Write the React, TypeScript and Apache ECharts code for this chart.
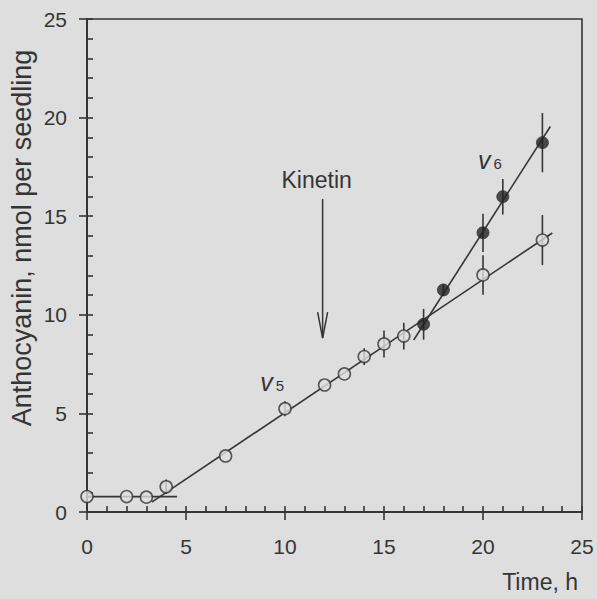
import React, { useEffect, useRef } from "react";
import * as echarts from "echarts";

// Time (h) and anthocyanin (nmol per seedling)
const openX = [0, 2, 3, 4, 7, 10, 12, 13, 14, 15, 16, 20, 23];
const openY = [0.78, 0.78, 0.75, 1.28, 2.84, 5.24, 6.44, 7.0, 7.88, 8.52, 8.92, 12.02, 13.79];
const openErr = [0, 0, 0, 0.37, 0, 0.38, 0, 0, 0.43, 0.68, 0.68, 1.0, 1.27];

const filledX = [17, 18, 20, 21, 23];
const filledY = [9.52, 11.26, 14.16, 15.99, 18.73];
const filledErr = [0.78, 0.3, 0.97, 0.9, 1.5];

// fitted lines
const baseLine = [[0, 0.78], [4.55, 0.78]];
const v5Line = [[3.27, 0.5], [23.5, 14.15]];
const v6Line = [[16.5, 8.72], [23.4, 19.55]];

// Kinetin arrow: x, y start, y end
const kinetinArrow = [[11.9, 15.87, 8.82]];

// annotations
const annotX = [11.6, 9.35, 20.35];
const annotY = [16.85, 6.6, 17.85];
const annotText = ["Kinetin", "{v|v}{s|5}", "{v|v}{s|6}"];

const xTicks = [0, 5, 10, 15, 20, 25];
const yTicks = [0, 5, 10, 15, 20, 25];

const INK = "#353535";
const BG = "#dedede";
const FONT = "'Liberation Sans', Arial, Helvetica, sans-serif";

export default function App() {
  const ref = useRef<HTMLDivElement>(null);
  useEffect(() => {
    document.body.style.margin = "0";
    const chart = echarts.init(ref.current!, null, { renderer: "svg" });
    const errData = [
      ...openX.map((x, i) => [x, openY[i], openErr[i]]),
      ...filledX.map((x, i) => [x, filledY[i], filledErr[i]]),
    ].filter((d) => d[2] > 0);

    const lineStyle = { color: INK, width: 1.6 };
    const axisCommon = (min: number, max: number, ticks: number[]) => ({
      type: "value",
      min,
      max,
      interval: ticks[1] - ticks[0],
      splitLine: { show: false },
    });

    const option: any = {
      animation: false,
      backgroundColor: BG,
      textStyle: { fontFamily: FONT },
      grid: {
        left: 87,
        right: 15,
        top: 19,
        bottom: 87,
        show: true,
        borderColor: INK,
        borderWidth: 1.6,
        containLabel: false,
        outerBoundsMode: "none",
      },
      xAxis: [
        {
          ...axisCommon(0, 25, xTicks),
          axisLine: { lineStyle: { color: INK, width: 2 } },
          axisTick: { inside: true, length: 6, lineStyle: { color: INK, width: 1.6 } },
          minorTick: { show: true, splitNumber: 5, length: 6, lineStyle: { color: INK, width: 1.6 } },
          axisLabel: { fontSize: 21, color: INK, margin: 24, fontFamily: FONT },
        },
        {
          ...axisCommon(0, 25, xTicks),
          position: "bottom",
          axisLine: { show: false },
          axisTick: { inside: false, length: 8, lineStyle: { color: INK, width: 1.6 } },
          axisLabel: { show: false },
        },
      ],
      yAxis: [
        {
          ...axisCommon(0, 25, yTicks),
          axisLine: { lineStyle: { color: INK, width: 2 } },
          axisTick: { inside: true, length: 6, lineStyle: { color: INK, width: 1.6 } },
          minorTick: { show: true, splitNumber: 5, length: 6, lineStyle: { color: INK, width: 1.6 } },
          axisLabel: { fontSize: 21, color: INK, margin: 20, fontFamily: FONT },
        },
        {
          ...axisCommon(0, 25, yTicks),
          position: "left",
          axisLine: { show: false },
          axisTick: { inside: false, length: 8, lineStyle: { color: INK, width: 1.6 } },
          axisLabel: { show: false },
        },
      ],
      graphic: [
        {
          type: "text",
          right: 19,
          bottom: 6,
          style: { text: "Time, h", font: `23px ${FONT}`, fill: INK },
        },
        {
          type: "text",
          x: 22,
          y: 238,
          rotation: Math.PI / 2,
          style: {
            text: "Anthocyanin, nmol per seedling",
            font: `27px ${FONT}`,
            fill: INK,
            align: "center",
            verticalAlign: "middle",
          },
        },
      ],
      series: [
        { type: "line", data: baseLine, symbol: "none", lineStyle, z: 2 },
        { type: "line", data: v5Line, symbol: "none", lineStyle, z: 2 },
        { type: "line", data: v6Line, symbol: "none", lineStyle, z: 2 },
        {
          type: "custom",
          z: 3,
          data: errData,
          renderItem: (params: any, api: any) => {
            const x = api.value(0);
            const y = api.value(1);
            const e = api.value(2);
            const p1 = api.coord([x, y - e]);
            const p2 = api.coord([x, y + e]);
            return {
              type: "line",
              shape: { x1: p1[0], y1: p1[1], x2: p2[0], y2: p2[1] },
              style: { stroke: INK, lineWidth: 1.6 },
            };
          },
        },
        {
          type: "custom",
          z: 3,
          data: kinetinArrow,
          renderItem: (params: any, api: any) => {
            const x = api.value(0);
            const top = api.coord([x, api.value(1)]);
            const tip = api.coord([x, api.value(2)]);
            return {
              type: "group",
              children: [
                {
                  type: "line",
                  shape: { x1: top[0], y1: top[1], x2: tip[0], y2: tip[1] },
                  style: { stroke: INK, lineWidth: 1.5 },
                },
                {
                  type: "polyline",
                  shape: {
                    points: [
                      [tip[0] - 5, tip[1] - 26],
                      [tip[0], tip[1]],
                      [tip[0] + 5, tip[1] - 26],
                    ],
                  },
                  style: { stroke: INK, lineWidth: 1.5, fill: "none" },
                },
              ],
            };
          },
        },
        {
          type: "custom",
          z: 5,
          data: annotX.map((x, i) => [x, annotY[i], i]),
          renderItem: (params: any, api: any) => {
            const p = api.coord([api.value(0), api.value(1)]);
            const i = api.value(2);
            return {
              type: "text",
              x: p[0],
              y: p[1],
              style: {
                text: annotText[i],
                fill: INK,
                font: `23px ${FONT}`,
                align: "center",
                verticalAlign: "middle",
                rich: {
                  v: { fontSize: 25, fontStyle: "italic", fontFamily: FONT, fill: INK },
                  s: { fontSize: 15, fontFamily: FONT, fill: INK, padding: [8, 0, 0, 3] },
                },
              },
            };
          },
        },
        {
          type: "scatter",
          data: openX.map((x, i) => [x, openY[i]]),
          symbol: "circle",
          symbolSize: 12,
          itemStyle: { color: BG, borderColor: INK, borderWidth: 1.6 },
          z: 4,
        },
        {
          type: "scatter",
          data: filledX.map((x, i) => [x, filledY[i]]),
          symbol: "circle",
          symbolSize: 12,
          itemStyle: { color: "#222222", borderColor: INK, borderWidth: 1 },
          z: 4,
        },
      ],
    };
    chart.setOption(option);
    return () => chart.dispose();
  }, []);
  return (
    <div
      ref={ref}
      style={{ position: "fixed", left: 0, top: 0, width: 597, height: 599 }}
    />
  );
}
